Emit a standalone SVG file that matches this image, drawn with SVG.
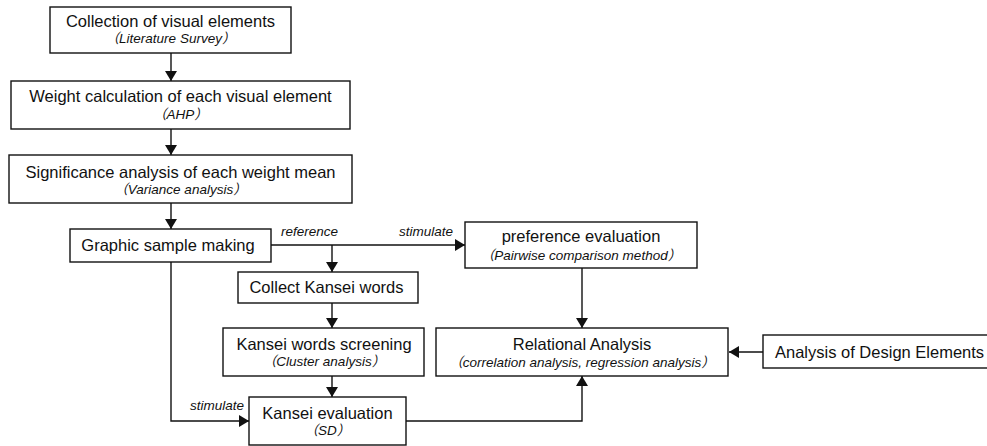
<svg xmlns="http://www.w3.org/2000/svg" width="987" height="446" viewBox="0 0 987 446">
<defs>
<marker id="arr" viewBox="0 0 10 12" markerWidth="10" markerHeight="12" refX="10" refY="6" orient="auto" markerUnits="userSpaceOnUse">
<path d="M0,0 L10,6 L0,12 z" fill="#111"/>
</marker>
<style>
.box{fill:#fff;stroke:#111;stroke-width:1.4}
.ln{fill:none;stroke:#111;stroke-width:1.4}
.t{font-family:"Liberation Sans","Noto Sans CJK SC",Arial,sans-serif;font-size:16.5px;fill:#111;text-anchor:middle}
.s{font-family:"Liberation Sans","Noto Sans CJK SC",Arial,sans-serif;font-size:13.5px;font-style:italic;fill:#111;text-anchor:middle}
.l{font-family:"Liberation Sans",Arial,sans-serif;font-size:13.5px;font-style:italic;fill:#111}
</style>
</defs>
<rect width="987" height="446" fill="#fff"/>
<g id="connectors">
<line class="ln" x1="171" y1="53" x2="171" y2="81" marker-end="url(#arr)"/>
<line class="ln" x1="171" y1="129" x2="171" y2="155" marker-end="url(#arr)"/>
<line class="ln" x1="171" y1="203" x2="171" y2="229" marker-end="url(#arr)"/>
<line class="ln" x1="271" y1="245" x2="465" y2="245" marker-end="url(#arr)"/>
<line class="ln" x1="332" y1="245" x2="332" y2="272" marker-end="url(#arr)"/>
<line class="ln" x1="332" y1="303" x2="332" y2="328" marker-end="url(#arr)"/>
<line class="ln" x1="332" y1="376" x2="332" y2="397" marker-end="url(#arr)"/>
<polyline class="ln" points="171,262 171,421 249,421" marker-end="url(#arr)"/>
<polyline class="ln" points="406,421 582,421 582,376" marker-end="url(#arr)"/>
<line class="ln" x1="582" y1="268" x2="582" y2="328" marker-end="url(#arr)"/>
<line class="ln" x1="763" y1="352" x2="729" y2="352" marker-end="url(#arr)"/>
<text class="l" x="281" y="236">reference</text>
<text class="l" x="399" y="236">stimulate</text>
<text class="l" x="190" y="410">stimulate</text>
</g>
<g id="n1">
<rect class="box" x="50" y="7" width="241" height="46"/>
<text class="t" x="170.5" y="27">Collection of visual elements</text>
<text class="s" x="170.5" y="43">（Literature Survey）</text>
</g>
<g id="n2">
<rect class="box" x="11" y="81" width="339" height="48"/>
<text class="t" x="180.5" y="102">Weight calculation of each visual element</text>
<text class="s" x="180.5" y="119">（AHP）</text>
</g>
<g id="n3">
<rect class="box" x="9" y="155" width="343" height="48"/>
<text class="t" x="180.5" y="178">Significance analysis of each weight mean</text>
<text class="s" x="180.5" y="194">（Variance analysis）</text>
</g>
<g id="n4">
<rect class="box" x="70" y="229" width="201" height="33"/>
<text class="t" x="168" y="251">Graphic sample making</text>
</g>
<g id="n5">
<rect class="box" x="465" y="222" width="232" height="46"/>
<text class="t" x="581" y="242">preference evaluation</text>
<text class="s" x="581" y="260">（Pairwise comparison method）</text>
</g>
<g id="n6">
<rect class="box" x="238" y="272" width="180" height="31"/>
<text class="t" x="326.5" y="293">Collect Kansei words</text>
</g>
<g id="n7">
<rect class="box" x="223" y="328" width="201" height="48"/>
<text class="t" x="324" y="349.5">Kansei words screening</text>
<text class="s" x="324" y="366">（Cluster analysis）</text>
</g>
<g id="n8">
<rect class="box" x="249" y="397" width="157" height="48"/>
<text class="t" x="327.5" y="418.5">Kansei evaluation</text>
<text class="s" x="327.5" y="435">（SD）</text>
</g>
<g id="n9">
<rect class="box" x="436" y="328" width="292" height="48"/>
<text class="t" x="582" y="350">Relational Analysis</text>
<text class="s" x="582" y="367">（correlation analysis, regression analysis）</text>
</g>
<g id="n10">
<rect class="box" x="763" y="335" width="240" height="33"/>
<text class="t" x="775" y="357.5" style="text-anchor:start">Analysis of Design Elements</text>
</g>
</svg>
